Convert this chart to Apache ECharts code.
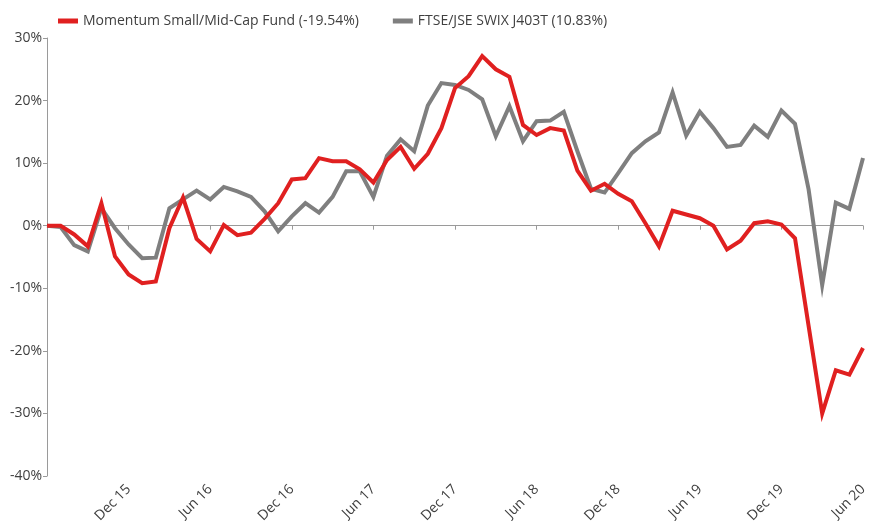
<!DOCTYPE html>
<html>
<head>
<meta charset="utf-8">
<script src="https://cdn.jsdelivr.net/npm/echarts@6/dist/echarts.min.js"></script>
<style>
  html, body { margin: 0; padding: 0; background: #fff; }
  #main { width: 872px; height: 522px; }
</style>
</head>
<body>
<div id="main"></div>
<script>
// monthly, Jun 15 .. Jun 20
const months = ['Jan', 'Feb', 'Mar', 'Apr', 'May', 'Jun', 'Jul', 'Aug', 'Sep', 'Oct', 'Nov', 'Dec'];
const categories = [];
for (let y = 15; y <= 20; y++) {
  for (let m = 0; m < 12; m++) {
    if ((y === 15 && m < 5) || (y === 20 && m > 5)) continue;
    categories.push(months[m] + ' ' + y);
  }
}

const fundName = 'Momentum Small/Mid-Cap Fund (-19.54%)';
const indexName = 'FTSE/JSE SWIX J403T (10.83%)';

const fundValues = [
  0, 0, -1.4, -3.3, 3.6, -4.9, -7.8, -9.2, -8.9, -0.4,
  4.5, -2.1, -4.1, 0.1, -1.5, -1.1, 1.1, 3.6, 7.4, 7.6,
  10.8, 10.3, 10.3, 9.0, 6.9, 10.5, 12.6, 9.1, 11.5, 15.6,
  22.0, 23.9, 27.1, 25.0, 23.8, 16.1, 14.5, 15.6, 15.2, 8.8,
  5.6, 6.7, 5.1, 3.9, 0.4, -3.3, 2.4, 1.8, 1.2, 0,
  -3.8, -2.4, 0.4, 0.7, 0.2, -2.0, -16, -30.0, -23.1, -23.8,
  -19.54
];
const indexValues = [
  0, -0.2, -3.1, -4.1, 2.8, -0.4, -3.0, -5.2, -5.1, 2.8,
  4.2, 5.6, 4.2, 6.2, 5.5, 4.6, 2.3, -0.9, 1.5, 3.6,
  2.1, 4.6, 8.7, 8.7, 4.6, 11.2, 13.8, 11.9, 19.2, 22.8,
  22.5, 21.7, 20.2, 14.3, 19.1, 13.5, 16.7, 16.8, 18.2, 11.9,
  5.9, 5.3, 8.4, 11.6, 13.5, 14.9, 21.3, 14.4, 18.2, 15.6,
  12.6, 12.9, 16.0, 14.2, 18.4, 16.3, 5.8, -9.5, 3.7, 2.7,
  10.83
];

const yTicks = { min: -40, max: 30, interval: 10 };

const showHalfYear = (idx) => idx > 0 && idx % 6 === 0;

const chart = echarts.init(document.getElementById('main'));
chart.setOption({
  animation: false,
  textStyle: { fontFamily: 'Open Sans' },
  legend: {
    top: 9,
    left: 53,
    itemWidth: 20,
    itemHeight: 5,
    itemGap: 34,
    icon: 'rect',
    textStyle: { fontSize: 14, color: '#404040', fontFamily: 'Open Sans' },
    data: [fundName, indexName]
  },
  grid: { left: 47, right: 9, top: 38, bottom: 46, outerBoundsMode: 'none', containLabel: false },
  xAxis: [
    {
      type: 'category',
      data: categories,
      boundaryGap: false,
      axisLine: { onZero: true, lineStyle: { color: '#9a9a9a', width: 1 } },
      axisTick: { show: true, length: 4, interval: (idx) => showHalfYear(idx), lineStyle: { color: '#9a9a9a' } },
      axisLabel: { show: false },
      splitLine: { show: false }
    },
    {
      type: 'category',
      data: categories,
      boundaryGap: false,
      position: 'bottom',
      axisLine: { show: false, onZero: false },
      axisTick: { show: false },
      axisLabel: {
        interval: (idx) => showHalfYear(idx),
        rotate: 45,
        margin: 11,
        fontSize: 14,
        color: '#404040',
        fontFamily: 'Open Sans'
      },
      splitLine: { show: false }
    }
  ],
  yAxis: {
    type: 'value',
    min: yTicks.min,
    max: yTicks.max,
    interval: yTicks.interval,
    axisLine: { show: true, lineStyle: { color: '#9a9a9a', width: 1 } },
    axisTick: { show: true, length: 4, lineStyle: { color: '#9a9a9a' } },
    axisLabel: { formatter: '{value}%', fontSize: 14, color: '#404040', margin: 5, fontFamily: 'Open Sans' },
    splitLine: { show: false }
  },
  series: [
    {
      name: fundName,
      type: 'line',
      data: fundValues,
      showSymbol: false,
      symbol: 'none',
      z: 3,
      lineStyle: { color: '#e02020', width: 4, join: 'miter' },
      itemStyle: { color: '#e02020' }
    },
    {
      name: indexName,
      type: 'line',
      data: indexValues,
      showSymbol: false,
      symbol: 'none',
      z: 2,
      lineStyle: { color: '#7f7f7f', width: 4, join: 'miter' },
      itemStyle: { color: '#7f7f7f' }
    }
  ]
});
</script>
</body>
</html>
